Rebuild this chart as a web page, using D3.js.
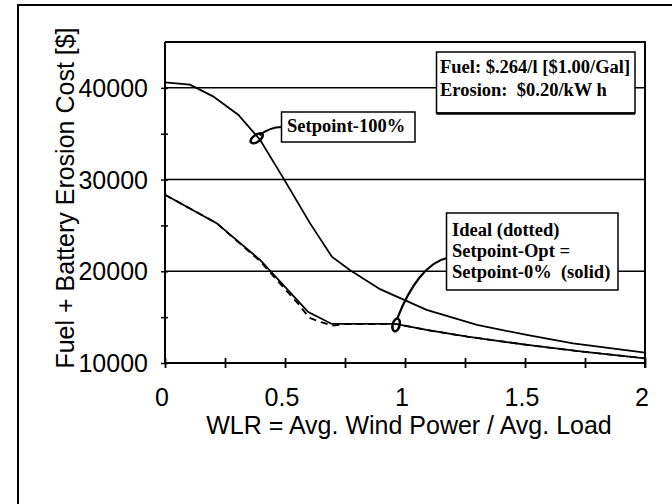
<!DOCTYPE html>
<html>
<head>
<meta charset="utf-8">
<script src="https://cdn.jsdelivr.net/npm/d3@7"></script>
<style>
  html, body { margin: 0; padding: 0; background: #fff; }
  svg { display: block; }
  text { white-space: pre; }
</style>
</head>
<body>
<svg id="chart" width="672" height="504"></svg>
<script>
// ---- data ----
const setpoint100X = [0, 0.104, 0.2, 0.305, 0.396, 0.493, 0.604, 0.695, 0.77, 0.896, 1.09, 1.3, 1.507, 1.7, 2.0];
const setpoint100Y = [40600, 40350, 39070, 37070, 34340, 30160, 25250, 21600, 20150, 18050, 15790, 14150, 13060, 12150, 11120];

const setpoint0X = [0, 0.215, 0.396, 0.5625, 0.597, 0.695, 0.96, 1.09, 1.26, 1.51, 1.74, 2.0];
const setpoint0Y = [28340, 25250, 21240, 16520, 15550, 14260, 14260, 13600, 12870, 11970, 11230, 10510];

const idealX = [0, 0.215, 0.396, 0.56, 0.6, 0.65, 0.7, 0.75, 0.96, 1.09, 1.26, 1.51, 1.74, 2.0];
const idealY = [28340, 25250, 21100, 16300, 14950, 14450, 14080, 14240, 14260, 13600, 12870, 11970, 11230, 10510];

const xTicks = [0, 0.5, 1, 1.5, 2];
const xMinorTicks = [0, 0.25, 0.5, 0.75, 1, 1.25, 1.5, 1.75, 2];
const yTicks = [10000, 20000, 30000, 40000];
const yMinorTicks = [10000, 15000, 20000, 25000, 30000, 35000, 40000];
const gridValues = [20000, 30000, 40000];

const xTitle = "WLR = Avg. Wind Power / Avg. Load";
const yTitle = "Fuel + Battery Erosion Cost [$]";
const costNoteLines = ["Fuel: $.264/l [$1.00/Gal]", "Erosion:  $0.20/kW h"];
const sp100Label = "Setpoint-100%";
const idealLines = ["Ideal (dotted)", "Setpoint-Opt =", "Setpoint-0%  (solid)"];
const sp100Marker = [0.382, 34500];
const idealMarker = [0.963, 14150];

// ---- layout ----
const svg = d3.select("#chart");
const pL = 165, pR = 645, pT = 42, pB = 363;
const x = d3.scaleLinear().domain([0, 2]).range([pL, pR]);
const y = d3.scaleLinear().domain([10000, 45000]).range([pB, pT]);
const sans = "'Liberation Sans', Arial, Helvetica, sans-serif";
const serif = "'Liberation Serif', 'Times New Roman', serif";

// outer frame
svg.append("rect").attr("x", 18).attr("y", 5).attr("width", 720).attr("height", 560)
  .attr("fill", "none").attr("stroke", "#000").attr("stroke-width", 2);

// gridlines
svg.append("g").selectAll("line").data(gridValues).join("line")
  .attr("x1", pL).attr("x2", pR)
  .attr("y1", d => y(d)).attr("y2", d => y(d))
  .attr("stroke", "#000").attr("stroke-width", 1.5);

// plot frame (top + right)
svg.append("path")
  .attr("d", `M${pL},${pT}H${pR}V${pB + 5}`)
  .attr("fill", "none").attr("stroke", "#000").attr("stroke-width", 2);

// x axis
const xAxis = svg.append("g").attr("transform", `translate(0,${pB})`)
  .call(d3.axisBottom(x).tickValues(xMinorTicks).tickSize(5).tickFormat(""));
xAxis.select(".domain").attr("d", `M${pL},0H${pR}`).attr("stroke-width", 2);
xAxis.selectAll(".tick line").attr("y1", -5).attr("y2", 5).attr("stroke-width", 1.8);

svg.append("g").selectAll("text").data(xTicks).join("text")
  .attr("x", d => x(d) - 3).attr("y", 406)
  .attr("text-anchor", "middle")
  .attr("font-family", sans).attr("font-size", 25)
  .text(d => d3.format("")(d));

// y axis
const yAxis = svg.append("g").attr("transform", `translate(${pL},0)`)
  .call(d3.axisLeft(y).tickValues(yMinorTicks).tickSize(3).tickFormat(""));
yAxis.select(".domain").attr("d", `M0,${pT}V${pB}`).attr("stroke-width", 2);
yAxis.selectAll(".tick line").attr("x1", -4).attr("x2", 3).attr("stroke-width", 1.5);

svg.append("g").selectAll("text").data(yTicks).join("text")
  .attr("x", 148).attr("y", d => y(d) + 9)
  .attr("text-anchor", "end")
  .attr("font-family", sans).attr("font-size", 25)
  .text(d => d3.format("")(d));

// axis titles
svg.append("text").attr("x", 409).attr("y", 434)
  .attr("text-anchor", "middle").attr("font-family", sans).attr("font-size", 25)
  .text(xTitle);
svg.append("text").attr("transform", "translate(74,198) rotate(-90)")
  .attr("text-anchor", "middle").attr("font-family", sans).attr("font-size", 25)
  .text(yTitle);

// lines
const line = d3.line().x(d => x(d[0])).y(d => y(d[1]));
const sp100 = setpoint100X.map((v, i) => [v, setpoint100Y[i]]);
const sp0 = setpoint0X.map((v, i) => [v, setpoint0Y[i]]);
const ideal = idealX.map((v, i) => [v, idealY[i]]);

svg.append("path").datum(ideal).attr("d", line)
  .attr("fill", "none").attr("stroke", "#000").attr("stroke-width", 1.8)
  .attr("stroke-dasharray", "7,5");
svg.append("path").datum(sp0).attr("d", line)
  .attr("fill", "none").attr("stroke", "#000").attr("stroke-width", 1.8);
svg.append("path").datum(sp100).attr("d", line)
  .attr("fill", "none").attr("stroke", "#000").attr("stroke-width", 1.8);

// cost note box
const note = svg.append("g");
note.append("rect").attr("x", 436.5).attr("y", 52).attr("width", 198.5).attr("height", 61)
  .attr("fill", "#fff").attr("stroke", "#000").attr("stroke-width", 1.5);
note.append("line").attr("x1", 436.5).attr("x2", 635).attr("y1", 113.5).attr("y2", 113.5)
  .attr("stroke", "#000").attr("stroke-width", 2.5);
note.selectAll("text").data(costNoteLines).join("text")
  .attr("x", 440).attr("y", (d, i) => 73 + i * 23)
  .attr("font-family", serif).attr("font-weight", "bold").attr("font-size", 18.5)
  .text(d => d);

// Setpoint-100% callout
const c1 = svg.append("g");
const m1x = x(sp100Marker[0]), m1y = y(sp100Marker[1]);
c1.append("path")
  .attr("d", `M282,127 C272,127 266,130 ${m1x + 3},${m1y - 3}`)
  .attr("fill", "none").attr("stroke", "#000").attr("stroke-width", 2.2);
c1.append("ellipse").attr("cx", m1x).attr("cy", m1y).attr("rx", 7).attr("ry", 3.5)
  .attr("transform", `rotate(-35,${m1x},${m1y})`)
  .attr("fill", "none").attr("stroke", "#000").attr("stroke-width", 2.5);
c1.append("rect").attr("x", 281.5).attr("y", 112).attr("width", 133.5).attr("height", 30)
  .attr("fill", "#fff").attr("stroke", "#000").attr("stroke-width", 1.5);
c1.append("text").attr("x", 287).attr("y", 132)
  .attr("font-family", serif).attr("font-weight", "bold").attr("font-size", 18.5)
  .text(sp100Label);

// Ideal / Setpoint-0% callout
const c2 = svg.append("g");
const m2x = x(idealMarker[0]), m2y = y(idealMarker[1]);
c2.append("path")
  .attr("d", `M447,258 C428,262 410,285 ${m2x + 1},${m2y - 6}`)
  .attr("fill", "none").attr("stroke", "#000").attr("stroke-width", 2.2);
c2.append("ellipse").attr("cx", m2x).attr("cy", m2y).attr("rx", 3.5).attr("ry", 6.5)
  .attr("transform", `rotate(15,${m2x},${m2y})`)
  .attr("fill", "none").attr("stroke", "#000").attr("stroke-width", 2.5);
c2.append("rect").attr("x", 446.5).attr("y", 213).attr("width", 171.5).attr("height", 77)
  .attr("fill", "#fff").attr("stroke", "#000").attr("stroke-width", 1.5);
c2.selectAll("text").data(idealLines).join("text")
  .attr("x", 452).attr("y", (d, i) => 236 + i * 21)
  .attr("font-family", serif).attr("font-weight", "bold").attr("font-size", 18.5)
  .text(d => d);
</script>
</body>
</html>
